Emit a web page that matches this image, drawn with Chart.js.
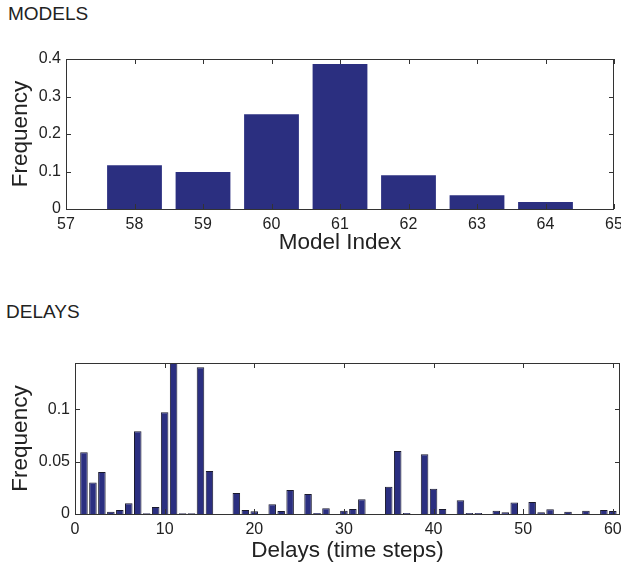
<!DOCTYPE html>
<html>
<head>
<meta charset="utf-8">
<script src="https://cdn.jsdelivr.net/npm/chart.js@4.4.0/dist/chart.umd.min.js"></script>
<style>
  body { margin: 0; background: #fff; width: 621px; height: 564px; position: relative; overflow: hidden; font-family: "Liberation Sans", Arial, sans-serif; }
  .lbl { position: absolute; font-size: 19px; color: #222; }
  .box { position: absolute; left: 0; }
</style>
</head>
<body>
<div class="lbl" style="left:8px;top:3px;">MODELS</div>
<div class="lbl" style="left:6px;top:301px;">DELAYS</div>
<div class="box" style="top:40px;"><canvas id="modelChart" width="621" height="220"></canvas></div>
<div class="box" style="top:330px;"><canvas id="delayChart" width="621" height="238"></canvas></div>
<script>
// model histogram
const modelIndex = [57, 58, 59, 60, 61, 62, 63, 64, 65];
const modelFreq = [0, 0.117, 0.099, 0.253, 0.387, 0.090, 0.037, 0.019, 0];
const modelYTicks = [0, 0.1, 0.2, 0.3, 0.4];

// delay histogram
const delaySteps = [];
for (let i = 1; i <= 60; i++) delaySteps.push(i);
const delayFreq = [
  0.059, 0.030, 0.040, 0.0022, 0.0038, 0.0103, 0.079, 0.0006, 0.0067, 0.097,
  0.160, 0.0006, 0.0006, 0.140, 0.041, 0, 0, 0.020, 0.0038, 0.0026,
  0, 0.0093, 0.0029, 0.023, 0, 0.019, 0.001, 0.0054, 0, 0.003,
  0.0048, 0.014, 0, 0, 0.026, 0.060, 0.001, 0, 0.057, 0.024,
  0.0048, 0, 0.013, 0.001, 0.001, 0, 0.0032, 0.0016, 0.011, 0,
  0.0115, 0.0016, 0.0045, 0, 0.0022, 0, 0.0032, 0, 0.0038, 0.0029
];
const delayYTicks = [0, 0.05, 0.1];

const barColor = '#2b2f80';
const textColor = '#222';

// MATLAB style box with inward ticks
const boxTicks = {
  id: 'boxTicks',
  afterDraw(chart) {
    const c = chart.ctx, a = chart.chartArea;
    const xs = chart.scales.x, ys = chart.scales.y;
    c.save();
    c.strokeStyle = '#333';
    c.lineWidth = 1;
    c.strokeRect(a.left + 0.5, a.top + 0.5, a.right - a.left - 1, a.bottom - a.top);
    c.beginPath();
    xs.ticks.forEach(t => {
      const x = Math.round(xs.getPixelForValue(t.value)) + 0.5;
      c.moveTo(x, a.bottom); c.lineTo(x, a.bottom - 5);
      c.moveTo(x, a.top); c.lineTo(x, a.top + 5);
    });
    ys.ticks.forEach(t => {
      const y = Math.round(ys.getPixelForValue(t.value)) + 0.5;
      c.moveTo(a.left, y); c.lineTo(a.left + 5, y);
      c.moveTo(a.right, y); c.lineTo(a.right - 5, y);
    });
    c.stroke();
    c.restore();
  }
};

function axisTitle(text) {
  return { display: true, text: text, color: textColor, font: { family: 'Liberation Sans', size: 22.5 } };
}
const tickFont = { family: 'Liberation Sans', size: 16 };
const fmt = v => String(+Number(v).toFixed(3));

new Chart(document.getElementById('modelChart').getContext('2d'), {
  type: 'bar',
  data: {
    datasets: [{
      data: modelIndex.map((m, i) => ({ x: m, y: modelFreq[i] })),
      backgroundColor: barColor,
      borderWidth: 0,
      barPercentage: 0.8,
      categoryPercentage: 1
    }]
  },
  options: {
    responsive: false,
    animation: false,
    layout: { padding: { top: 19, right: 7, left: 0, bottom: 0 } },
    plugins: { legend: { display: false }, tooltip: { enabled: false } },
    scales: {
      x: {
        type: 'linear', min: 57, max: 65, offset: false,
        grid: { display: false, drawTicks: false },
        border: { display: false },
        ticks: { stepSize: 1, color: textColor, font: tickFont, padding: 6 },
        title: Object.assign(axisTitle('Model Index'), { padding: { top: 0, bottom: 4 } }),
        afterFit(s) { s.height = 51; s.paddingLeft = 0; s.paddingRight = 0; }
      },
      y: {
        min: 0, max: 0.4,
        grid: { display: false, drawTicks: false },
        border: { display: false },
        afterBuildTicks(s) { s.ticks = modelYTicks.map(v => ({ value: v })); },
        ticks: { color: textColor, font: tickFont, padding: 5, callback: fmt },
        title: Object.assign(axisTitle('Frequency'), { padding: { top: 7, bottom: 0 } }),
        afterFit(s) { s.width = 66; }
      }
    }
  },
  plugins: [boxTicks]
});

new Chart(document.getElementById('delayChart').getContext('2d'), {
  type: 'bar',
  data: {
    datasets: [{
      data: delaySteps.map((d, i) => ({ x: d, y: delayFreq[i] })),
      backgroundColor: barColor,
      borderColor: '#1a1a2e',
      borderWidth: 1,
      barPercentage: 0.84,
      categoryPercentage: 1
    }]
  },
  options: {
    responsive: false,
    animation: false,
    layout: { padding: { top: 33, right: 1, left: 0, bottom: 0 } },
    plugins: { legend: { display: false }, tooltip: { enabled: false } },
    scales: {
      x: {
        type: 'linear', min: 0, max: 60.8, offset: false,
        grid: { display: false, drawTicks: false },
        border: { display: false },
        ticks: { stepSize: 10, includeBounds: false, color: textColor, font: tickFont, padding: 6 },
        title: Object.assign(axisTitle('Delays (time steps)'), { padding: { top: 0, bottom: 4 } }),
        afterFit(s) { s.height = 54; s.paddingLeft = 0; s.paddingRight = 0; }
      },
      y: {
        min: 0, max: 0.144,
        grid: { display: false, drawTicks: false },
        border: { display: false },
        afterBuildTicks(s) { s.ticks = delayYTicks.map(v => ({ value: v })); },
        ticks: { color: textColor, font: tickFont, padding: 5, callback: fmt },
        title: Object.assign(axisTitle('Frequency'), { padding: { top: 7, bottom: 0 } }),
        afterFit(s) { s.width = 75; }
      }
    }
  },
  plugins: [boxTicks]
});
</script>
</body>
</html>
